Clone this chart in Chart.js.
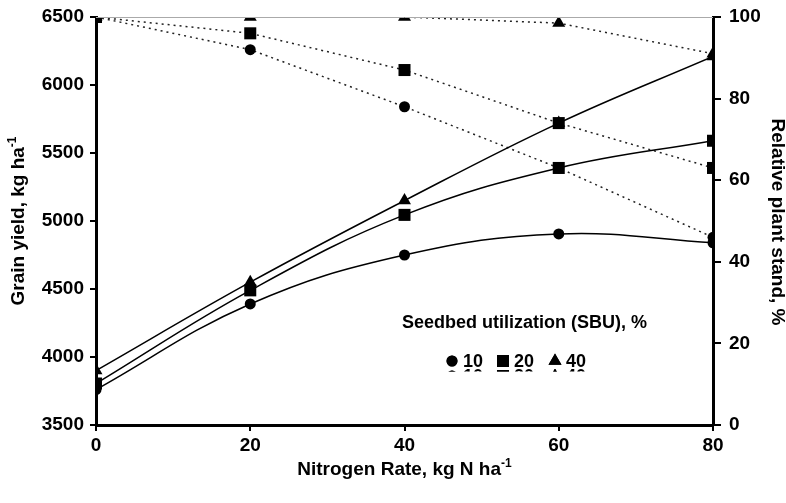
<!DOCTYPE html>
<html>
<head>
<meta charset="utf-8">
<script src="https://cdn.jsdelivr.net/npm/chart.js@4/dist/chart.umd.min.js"></script>
<style>
html,body{margin:0;padding:0;background:#fff;}
#wrap{width:786px;height:503px;position:relative;}
</style>
</head>
<body>
<div id="wrap"><canvas id="c" width="786" height="503"></canvas></div>
<script>
// ---- data ----
const nitrogenRates = [0, 20, 40, 60, 80];
const yieldSBU10 = [3760, 4390, 4750, 4905, 4840];
const yieldSBU20 = [3805, 4490, 5045, 5390, 5590];
const yieldSBU40 = [3900, 4550, 5150, 5720, 6210];
const standSBU10 = [100, 92, 78, 63, 46];
const standSBU20 = [100, 96, 87, 74, 63];
const standSBU40 = [100, 100, 100, 98.5, 91];
const xTicks = [0, 20, 40, 60, 80];
const yieldTicks = [3500, 4000, 4500, 5000, 5500, 6000, 6500];
const standTicks = [0, 20, 40, 60, 80, 100];
const legendTitle = 'Seedbed utilization (SBU), %';
const legendLabels = ['10', '20', '40'];
const markerStyles = ['circle', 'rect', 'triangle'];

const FONT = "'Liberation Sans', Arial, sans-serif";
const pts = (arr) => nitrogenRates.map((x, i) => ({x: x, y: arr[i]}));
const radii = {circle: 5.5, rect: 8.5, triangle: 7.5};
const TICK_SIZE = 19, TITLE_SIZE = 19;

function yieldDs(arr, style) {
  return {data: pts(arr), yAxisID: 'y', borderColor: '#000', borderWidth: 1.5,
    backgroundColor: '#000', pointStyle: style, pointRadius: radii[style],
    pointBorderWidth: 0, tension: 0.4, fill: false};
}
function standDs(arr, style) {
  return {data: pts(arr), yAxisID: 'y1', borderColor: '#222', borderWidth: 1.5,
    borderDash: [2, 4], backgroundColor: '#000', pointStyle: style, pointRadius: radii[style],
    pointBorderWidth: 0, tension: 0, fill: false};
}

const decor = {
  id: 'decor',
  afterDraw(chart) {
    const ctx = chart.ctx, a = chart.chartArea;
    ctx.save();
    ctx.strokeStyle = '#aaa'; ctx.lineWidth = 1;
    ctx.beginPath(); ctx.moveTo(a.left, a.top + 0.5); ctx.lineTo(a.right, a.top + 0.5); ctx.stroke();
    ctx.fillStyle = '#000';
    ctx.textBaseline = 'alphabetic';
    function supText(main, sup, cx, cy, size) {
      ctx.font = 'bold ' + size + 'px ' + FONT;
      const w1 = ctx.measureText(main).width;
      ctx.font = 'bold ' + Math.round(size * 0.65) + 'px ' + FONT;
      const w2 = ctx.measureText(sup).width;
      const x0 = cx - (w1 + w2) / 2;
      ctx.font = 'bold ' + size + 'px ' + FONT;
      ctx.textAlign = 'left';
      ctx.fillText(main, x0, cy);
      ctx.font = 'bold ' + Math.round(size * 0.65) + 'px ' + FONT;
      ctx.fillText(sup, x0 + w1, cy - size * 0.4);
    }
    supText('Nitrogen Rate, kg N ha', '-1', (a.left + a.right) / 2, 475, TITLE_SIZE);
    ctx.save();
    ctx.translate(24, 221);
    ctx.rotate(-Math.PI / 2);
    supText('Grain yield, kg ha', '-1', 0, 0, TITLE_SIZE);
    ctx.restore();
    ctx.save();
    ctx.translate(772, 222);
    ctx.rotate(Math.PI / 2);
    ctx.font = 'bold ' + TITLE_SIZE + 'px ' + FONT;
    ctx.textAlign = 'center';
    ctx.fillText('Relative plant stand, %', 0, 0);
    ctx.restore();
    // legend
    ctx.font = 'bold 18px ' + FONT;
    ctx.textAlign = 'right';
    ctx.fillText(legendTitle, 647, 328);
    ctx.textAlign = 'left';
    const xs = [452, 503, 555];
    function drawRow(yy) {
      for (let i = 0; i < 3; i++) {
        Chart.helpers.drawPoint(ctx, {pointStyle: markerStyles[i], radius: radii[markerStyles[i]], borderWidth: 0}, xs[i], yy);
        ctx.fill();
        ctx.fillText(legendLabels[i], xs[i] + 11, yy + 6);
      }
    }
    ctx.fillStyle = '#000'; ctx.strokeStyle = '#000';
    drawRow(361);
    ctx.save();
    ctx.beginPath(); ctx.rect(440, 369, 160, 2.5); ctx.clip();
    ctx.fillStyle = '#fff'; ctx.fillRect(440, 369, 160, 3);
    ctx.fillStyle = '#000';
    drawRow(376);
    ctx.restore();
    ctx.restore();
  }
};

const tickFont = {family: FONT, size: TICK_SIZE, weight: 'bold'};
const plain = (v) => String(v);
function noPad(s) { s.paddingTop = 0; s.paddingBottom = 0; s.paddingLeft = 0; s.paddingRight = 0; }

new Chart(document.getElementById('c'), {
  type: 'line',
  data: {
    datasets: [
      yieldDs(yieldSBU10, 'circle'), yieldDs(yieldSBU20, 'rect'), yieldDs(yieldSBU40, 'triangle'),
      standDs(standSBU10, 'circle'), standDs(standSBU20, 'rect'), standDs(standSBU40, 'triangle')
    ]
  },
  options: {
    responsive: false, animation: false, devicePixelRatio: 1,
    layout: {padding: {top: 17, left: 0, right: 0, bottom: 0}},
    plugins: {legend: {display: false}, tooltip: {enabled: false}},
    scales: {
      x: {
        type: 'linear', min: 0, max: 80,
        afterBuildTicks: (s) => { s.ticks = xTicks.map(v => ({value: v})); },
        afterFit: (s) => { s.height = 78; noPad(s); },
        grid: {drawOnChartArea: false, drawTicks: true, tickLength: 6, color: '#000', lineWidth: 2},
        border: {display: true, color: '#000', width: 3},
        ticks: {color: '#000', font: tickFont, padding: 3, maxRotation: 0, callback: plain}
      },
      y: {
        position: 'left', min: 3500, max: 6500,
        afterBuildTicks: (s) => { s.ticks = yieldTicks.map(v => ({value: v})); },
        afterFit: (s) => { s.width = 96; noPad(s); },
        grid: {drawOnChartArea: false, drawTicks: true, tickLength: 6, color: '#000', lineWidth: 2},
        border: {display: true, color: '#000', width: 3},
        ticks: {color: '#000', font: tickFont, padding: 6, callback: plain}
      },
      y1: {
        position: 'right', min: 0, max: 100,
        afterBuildTicks: (s) => { s.ticks = standTicks.map(v => ({value: v})); },
        afterFit: (s) => { s.width = 73; noPad(s); },
        grid: {drawOnChartArea: false, drawTicks: true, tickLength: 8, color: '#000', lineWidth: 2},
        border: {display: true, color: '#000', width: 3},
        ticks: {color: '#000', font: tickFont, padding: 8, callback: plain}
      }
    }
  },
  plugins: [decor]
});
</script>
</body>
</html>
